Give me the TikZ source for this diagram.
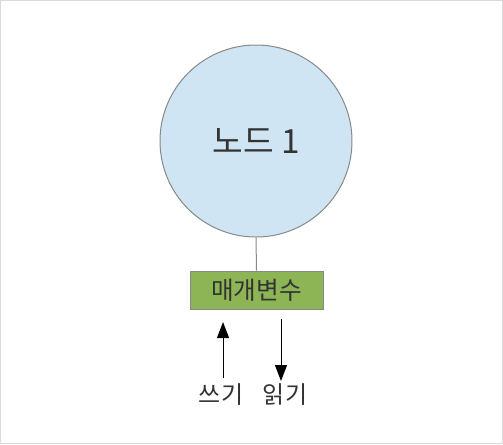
\documentclass[tikz,border=0pt]{standalone}
\usepackage{fontspec}
\setmainfont{Noto Sans CJK KR}
\usetikzlibrary{arrows.meta,positioning}

\definecolor{nodeblue}{HTML}{CFE5F3}
\definecolor{paramgreen}{HTML}{8DB555}
\definecolor{framegray}{HTML}{D9D9D9}
\definecolor{linegray}{HTML}{888888}
\definecolor{textgray}{HTML}{333333}

\begin{document}
\begin{tikzpicture}[x=0.75pt, y=-0.75pt, line width=0.75pt, text=textgray]

\draw [framegray] (0.5,0.5) rectangle (502.5,443.5);

\node (node1) [circle, draw=linegray, fill=nodeblue, minimum size=144pt, inner sep=0pt,
  font=\fontsize{25}{30}\selectfont] at (256,141) {노드 1};
\node (param) [rectangle, draw=linegray, fill=paramgreen, minimum width=99.75pt, minimum height=28.5pt,
  inner sep=0pt, font=\fontsize{18.5}{22}\selectfont] at (256.5,290) {매개변수};
\draw [linegray] (node1.south) -- (param.north);

\node (write) [font=\fontsize{18}{22}\selectfont] at (221,395) {쓰기};
\node (read) [font=\fontsize{18}{22}\selectfont] at (285,395) {읽기};

\coordinate (wtip) at (223,322);
\coordinate (wend) at (223,378);
\coordinate (rtop) at (281,319);
\coordinate (rtip) at (281,381);
\draw [-{Triangle[length=12pt,width=9pt]}] (wend) -- (wtip);
\draw [-{Triangle[length=12pt,width=9pt]}] (rtop) -- (rtip);
\end{tikzpicture}
\end{document}
